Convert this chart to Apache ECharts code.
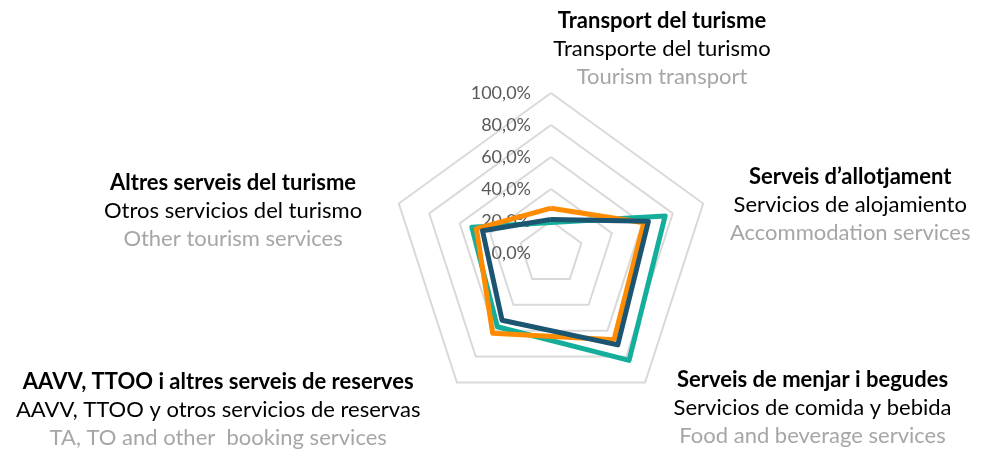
<!DOCTYPE html>
<html>
<head>
<meta charset="utf-8">
<script src="https://cdn.jsdelivr.net/npm/echarts@6/dist/echarts.min.js"></script>
<style>
  html, body { margin: 0; padding: 0; background: #fff; }
  #main { width: 992px; height: 449px; }
</style>
</head>
<body>
<div id="main"></div>
<script>
// indicators in echarts order (top, then counter-clockwise)
var namesCa = ['Transport del turisme', 'Altres serveis del turisme', 'AAVV, TTOO i altres serveis de reserves', 'Serveis de menjar i begudes', 'Serveis d\u2019allotjament']
var namesEs = ['Transporte del turismo', 'Otros servicios del turismo', 'AAVV, TTOO y otros servicios de reservas', 'Servicios de comida y bebida', 'Servicios de alojamiento']
var namesEn = ['Tourism transport', 'Other tourism services', 'TA, TO and other  booking services', 'Food and beverage services', 'Accommodation services']

var serieTeal = [19, 52, 57, 83, 75]
var serieOrange = [28, 49, 62, 67, 61]
var serieBlue = [21, 45, 52, 71, 64]

var colors = ['#14AE9A', '#FF8C00', '#1C5571']

var chart = echarts.init(document.getElementById('main'))

// padding of each name block, to move it where excel put it
var pads = [
  [0, 0, 0, 222],
  [18, 31, 0, 0],
  [46, 33, 0, 0],
  [42, 0, 0, 25],
  [6, 0, 0, 21]
]
var gaps = [2, 6, 6, 6, 6]

var base = { fontFamily: 'Lato', fontSize: 22, lineHeight: 28, align: 'center' }
var rich = {
  a: Object.assign({}, base, { fontWeight: 'bold', color: '#000' }),
  b: Object.assign({}, base, { color: '#000' }),
  c: Object.assign({}, base, { color: '#A6A6A6' })
}

chart.setOption({
  animation: false,
  radar: {
    center: [551, 253],
    radius: 160,
    startAngle: 90,
    splitNumber: 5,
    shape: 'polygon',
    indicator: namesCa.map(function (n, i) {
      return {
        name: n,
        min: 0,
        max: 100,
        nameGap: gaps[i],
        nameTextStyle: { padding: pads[i] },
        axisLabel: { show: i === 0 }
      }
    }),
    axisName: {
      formatter: function (name) {
        var i = namesCa.indexOf(name)
        return '{a|' + namesCa[i] + '}\n{b|' + namesEs[i] + '}\n{c|' + namesEn[i] + '}'
      },
      rich: rich
    },
    axisLine: { show: false },
    splitArea: { show: false },
    splitLine: { lineStyle: { color: '#D9D9D9', width: 2 } },
    axisTick: { show: false },
    axisLabel: {
      show: true,
      fontFamily: 'Lato',
      fontSize: 18,
      color: '#595959',
      margin: 20,
      formatter: function (v) { return v.toFixed(1).replace('.', ',') + '%' }
    }
  },
  series: [{
    type: 'radar',
    symbol: 'none',
    data: [
      { value: serieTeal, lineStyle: { color: colors[0], width: 5 } },
      { value: serieOrange, lineStyle: { color: colors[1], width: 5 } },
      { value: serieBlue, lineStyle: { color: colors[2], width: 5 } }
    ]
  }]
})
</script>
</body>
</html>
